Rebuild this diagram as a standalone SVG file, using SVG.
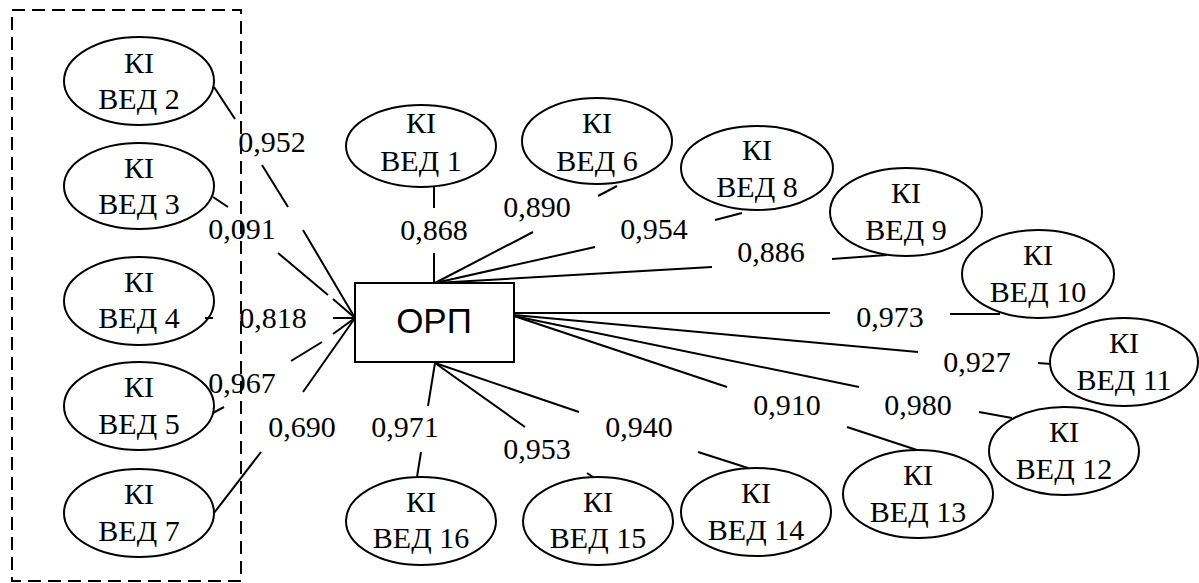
<svg xmlns="http://www.w3.org/2000/svg" width="1199" height="583" viewBox="0 0 1199 583">
<style>
.bg{fill:#fff}
.n ellipse{fill:none;stroke:#000;stroke-width:2}
.box rect{fill:#fff;stroke:#000;stroke-width:2}
.c line{stroke:#000;stroke-width:2;stroke-linecap:butt}
.grp{fill:none;stroke:#000;stroke-width:2;stroke-dasharray:13 7}
</style>
<rect class="bg" x="0" y="0" width="1199" height="583"/>
<g id="connectors" class="c">
<line x1="214" y1="87" x2="235" y2="119"/><line x1="262" y1="165" x2="288" y2="207"/><line x1="303" y1="230" x2="355" y2="318"/>
<line x1="213" y1="197" x2="228" y2="207"/><line x1="278" y1="253" x2="328" y2="295"/><line x1="333" y1="299" x2="355" y2="318"/>
<line x1="205" y1="318" x2="213" y2="318"/><line x1="333" y1="318" x2="355" y2="318"/>
<line x1="213" y1="413" x2="224" y2="407"/><line x1="291" y1="361" x2="322" y2="342"/><line x1="333" y1="334" x2="355" y2="318"/>
<line x1="214" y1="513" x2="261" y2="452"/><line x1="303" y1="392" x2="355" y2="318"/>
<line x1="434" y1="187" x2="434" y2="208"/><line x1="434" y1="253" x2="434" y2="283"/>
<line x1="617" y1="186" x2="598" y2="196"/><line x1="533" y1="232" x2="435" y2="283"/>
<line x1="742" y1="213" x2="715" y2="220"/><line x1="595" y1="247" x2="435" y2="283"/>
<line x1="887" y1="255" x2="832" y2="259"/><line x1="712" y1="267" x2="435" y2="283"/>
<line x1="514" y1="313" x2="830" y2="313"/><line x1="950" y1="314" x2="1000" y2="314"/>
<line x1="514" y1="315" x2="918" y2="352"/><line x1="1038" y1="363" x2="1051" y2="364"/>
<line x1="514" y1="316" x2="859" y2="387"/><line x1="979" y1="412" x2="1012" y2="418"/>
<line x1="514" y1="316" x2="727" y2="387"/><line x1="847" y1="427" x2="917" y2="450"/>
<line x1="435" y1="363" x2="428" y2="406"/><line x1="421" y1="452" x2="417" y2="477"/>
<line x1="435" y1="363" x2="525" y2="427"/><line x1="587" y1="473" x2="593" y2="477"/>
<line x1="435" y1="363" x2="579" y2="412"/><line x1="698" y1="452" x2="748" y2="468"/>
</g>
<g id="labels" style="font-family:'Liberation Serif',serif;font-size:30px" text-anchor="middle" fill="#000">
<text x="272" y="152">0,952</text>
<text x="242" y="239">0,091</text>
<text x="273" y="328">0,818</text>
<text x="242" y="393">0,967</text>
<text x="302" y="437">0,690</text>
<text x="434" y="240">0,868</text>
<text x="537" y="217">0,890</text>
<text x="654" y="239">0,954</text>
<text x="771" y="262">0,886</text>
<text x="890" y="327">0,973</text>
<text x="977" y="372">0,927</text>
<text x="918" y="415">0,980</text>
<text x="787" y="415">0,910</text>
<text x="405" y="437">0,971</text>
<text x="537" y="459">0,953</text>
<text x="639" y="437">0,940</text>
</g>
<g id="orp" class="box"><rect x="355" y="283" width="159" height="79"/><text x="434" y="333" style="font-family:'Liberation Sans',Arial,sans-serif;font-size:35px" text-anchor="middle" fill="#000">ОРП</text></g>
<g id="nodes" style="font-family:'Liberation Serif',serif;font-size:30px" text-anchor="middle" fill="#000">
<g id="ved2" class="n"><ellipse cx="139" cy="81" rx="75" ry="44"/><text x="139" y="73">КІ</text><text x="139" y="109">ВЕД 2</text></g>
<g id="ved3" class="n"><ellipse cx="139" cy="186" rx="75" ry="43"/><text x="139" y="178">КІ</text><text x="139" y="214">ВЕД 3</text></g>
<g id="ved4" class="n"><ellipse cx="139" cy="301" rx="75" ry="44"/><text x="139" y="292">КІ</text><text x="139" y="328">ВЕД 4</text></g>
<g id="ved5" class="n"><ellipse cx="139" cy="406" rx="75" ry="44"/><text x="139" y="397">КІ</text><text x="139" y="434">ВЕД 5</text></g>
<g id="ved7" class="n"><ellipse cx="139" cy="513" rx="75" ry="44"/><text x="139" y="504">КІ</text><text x="139" y="541">ВЕД 7</text></g>
<g id="ved1" class="n"><ellipse cx="421" cy="146" rx="75" ry="41"/><text x="421" y="133">КІ</text><text x="421" y="171">ВЕД 1</text></g>
<g id="ved6" class="n"><ellipse cx="597" cy="141" rx="75" ry="43"/><text x="597" y="133">КІ</text><text x="597" y="171">ВЕД 6</text></g>
<g id="ved8" class="n"><ellipse cx="757" cy="168" rx="76" ry="42"/><text x="757" y="160">КІ</text><text x="757" y="197">ВЕД 8</text></g>
<g id="ved9" class="n"><ellipse cx="906" cy="212" rx="76" ry="44"/><text x="906" y="203">КІ</text><text x="906" y="240">ВЕД 9</text></g>
<g id="ved10" class="n"><ellipse cx="1038" cy="274" rx="76" ry="44"/><text x="1038" y="265">КІ</text><text x="1038" y="302">ВЕД 10</text></g>
<g id="ved11" class="n"><ellipse cx="1124" cy="362" rx="74" ry="44"/><text x="1124" y="353">КІ</text><text x="1124" y="390">ВЕД 11</text></g>
<g id="ved12" class="n"><ellipse cx="1064" cy="451" rx="75" ry="44"/><text x="1064" y="442">КІ</text><text x="1064" y="479">ВЕД 12</text></g>
<g id="ved13" class="n"><ellipse cx="918" cy="494" rx="75" ry="44"/><text x="918" y="485">КІ</text><text x="918" y="522">ВЕД 13</text></g>
<g id="ved14" class="n"><ellipse cx="756" cy="512" rx="75" ry="44"/><text x="756" y="503">КІ</text><text x="756" y="540">ВЕД 14</text></g>
<g id="ved15" class="n"><ellipse cx="598" cy="521" rx="75" ry="44"/><text x="598" y="512">КІ</text><text x="598" y="548">ВЕД 15</text></g>
<g id="ved16" class="n"><ellipse cx="421" cy="521" rx="75" ry="44"/><text x="421" y="512">КІ</text><text x="421" y="548">ВЕД 16</text></g>
</g>
<g id="group"><rect class="grp" x="12" y="10" width="229" height="571"/></g>
</svg>
